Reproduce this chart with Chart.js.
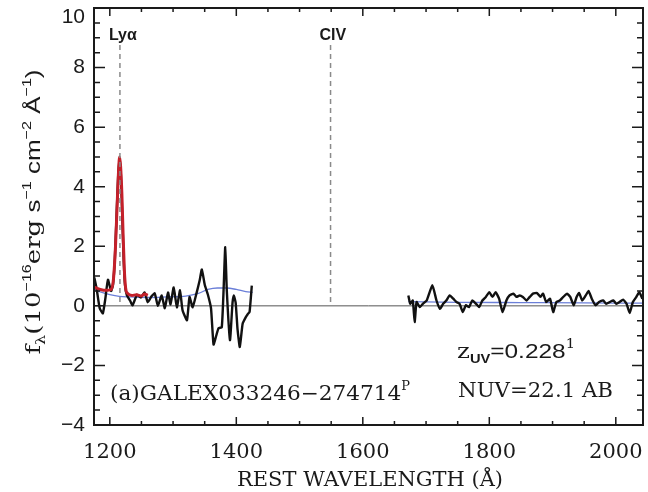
<!DOCTYPE html>
<html>
<head>
<meta charset="utf-8">
<script src="https://cdn.jsdelivr.net/npm/chart.js@4.4.1/dist/chart.umd.min.js"></script>
<style>
  html, body { margin: 0; padding: 0; background: #fff; }
  #spec { display: block; }
</style>
</head>
<body>
<canvas id="spec" width="648" height="492"></canvas>
<script>
// Observed spectrum, blue segment (rest wavelength in A, flux in 1e-16 cgs)
const obsWave1 = [1175.5, 1179, 1184, 1189, 1193, 1197, 1202, 1205, 1208, 1211, 1213.5, 1215.5, 1217.5, 1220, 1222, 1224,
  1227, 1232, 1236, 1243, 1249, 1255, 1260, 1266, 1271, 1276, 1282, 1287, 1292, 1296, 1301, 1306, 1311, 1315, 1322,
  1326, 1331, 1337, 1342, 1345.5, 1350, 1355, 1360, 1364, 1368, 1372, 1377, 1380, 1382.5, 1385, 1390, 1394, 1396,
  1399, 1402, 1405.5, 1410, 1415, 1418, 1421, 1424.5];
const obsFlux1 = [0.95, 0.6, -0.08, -0.25, 0.25, 0.88, 0.5, 0.7, 1.6, 3.2, 4.5, 4.9, 4.4, 2.8, 1.5, 0.7,
  0.35, 0.18, 0.02, 0.38, 0.28, 0.45, 0.12, 0.32, 0.42, 0.0, 0.35, -0.08, 0.45, 0.05, 0.62, -0.05, 0.52, -0.15, -0.48,
  0.3, -0.05, 0.42, 0.85, 1.22, 0.72, 0.38, -0.08, -1.3, -1.02, -0.75, -0.72, 0.6, 1.97, 0.5, -1.15, 0.1, 0.35,
  0.1, -0.8, -1.38, -0.6, -0.38, -0.28, -0.2, 0.68];

// Observed spectrum, red segment
const obsWave2 = [1672, 1675, 1679, 1682, 1685, 1690, 1695, 1701, 1710, 1716.5, 1722, 1727, 1732, 1737.5, 1743, 1748,
  1753, 1758, 1763, 1768, 1773, 1779, 1784, 1789, 1794.5, 1800, 1805, 1810, 1815.5, 1821, 1827, 1832, 1838, 1843,
  1848, 1853, 1859, 1864, 1869, 1875.5, 1881, 1885, 1890, 1896, 1901, 1906, 1911.5, 1917, 1923, 1928, 1933.5, 1938,
  1942, 1947, 1952.5, 1957, 1962, 1968, 1973.5, 1980, 1985, 1990.5, 1996, 2001, 2006, 2011.5, 2017, 2022, 2027,
  2032.5, 2037, 2042];
const obsFlux2 = [0.35, 0.07, 0.18, -0.54, 0.13, -0.04, 0.07, 0.18, 0.69, 0.18, -0.1, 0.07, 0.18, 0.35, 0.24, 0.13,
  0.07, -0.21, 0.02, -0.04, 0.18, 0.07, -0.04, 0.18, 0.3, 0.46, 0.3, 0.46, 0.24, -0.21, 0.18, 0.35, 0.41, 0.3,
  0.35, 0.3, 0.18, 0.3, 0.41, 0.43, 0.3, 0.41, 0.13, 0.24, -0.21, 0.13, 0.18, 0.3, 0.41, 0.3, 0.02, 0.3,
  0.43, 0.18, 0.35, 0.5, 0.24, 0.02, 0.13, 0.18, 0.07, 0.13, 0.18, 0.07, 0.13, 0.21, 0.07, -0.24, 0.13,
  0.3, 0.46, 0.24];

// Continuum model for both segments
const contWave1 = [1175, 1185, 1200, 1215, 1230, 1260, 1290, 1320, 1340, 1355, 1370, 1385, 1400, 1415, 1426];
const contFlux1 = [0.55, 0.47, 0.38, 0.32, 0.3, 0.28, 0.3, 0.33, 0.42, 0.55, 0.6, 0.6, 0.55, 0.48, 0.45];
const contWave2 = [1672, 1750, 1850, 1950, 2043];
const contFlux2 = [0.14, 0.12, 0.11, 0.1, 0.09];

// Line fit around Lyman alpha
const fitWave = [1175, 1185, 1195, 1202, 1206, 1209, 1212, 1214, 1215.5, 1217, 1219, 1221, 1223, 1225, 1228, 1235,
  1242, 1250, 1255, 1260];
const fitFlux = [0.63, 0.55, 0.52, 0.55, 0.95, 2.0, 3.6, 4.6, 5.0, 4.7, 3.8, 2.4, 1.2, 0.6, 0.42, 0.35,
  0.37, 0.33, 0.4, 0.35];

const xTicks = [1200, 1400, 1600, 1800, 2000];
const yTicks = [-4, -2, 0, 2, 4, 6, 8, 10];
const markNames = ['Lyα', 'CIV'];
const markWaves = [1216, 1549];

const SERIF = '"DejaVu Serif", serif';
const SANS = '"Liberation Sans", Arial, sans-serif';
const INK = '#1a1a1a';

const toPoints = (w, f) => w.map((x, i) => ({ x: x, y: f[i] }));
const gap = { x: 1550, y: null };

// draws a row of text runs (sub/superscripts via dy), squeezed or stretched to a given width
function drawRuns(ctx, runs, x, y, align, width) {
  let total = 0;
  runs.forEach(r => { ctx.font = r.f; total += ctx.measureText(r.t).width; });
  const sx = width ? width / total : 1;
  ctx.save();
  ctx.translate(align === 'center' ? x - total * sx / 2 : x, y);
  ctx.scale(sx, 1);
  let cx = 0;
  runs.forEach(r => {
    ctx.font = r.f;
    ctx.fillText(r.t, cx, r.dy || 0);
    cx += ctx.measureText(r.t).width;
  });
  ctx.restore();
}

const idlFrame = {
  id: 'idlFrame',
  beforeDatasetsDraw(chart) {
    const { ctx, chartArea: a, scales: { y } } = chart;
    const y0 = y.getPixelForValue(0);
    ctx.save();
    ctx.strokeStyle = '#555';
    ctx.lineWidth = 1;
    ctx.beginPath();
    ctx.moveTo(a.left, y0);
    ctx.lineTo(a.right, y0);
    ctx.stroke();
    ctx.restore();
  },
  afterDatasetsDraw(chart) {
    const { ctx, chartArea: a, scales: { x, y } } = chart;
    ctx.save();

    // emission line markers
    ctx.strokeStyle = '#8a8a8a';
    ctx.lineWidth = 1.5;
    ctx.setLineDash([5, 4]);
    markWaves.forEach((w, i) => {
      const px = x.getPixelForValue(w);
      ctx.beginPath();
      ctx.moveTo(px, a.top + 37);
      ctx.lineTo(px, y.getPixelForValue(0));
      ctx.stroke();
    });
    ctx.setLineDash([]);
    ctx.fillStyle = INK;
    ctx.font = `bold 16px ${SANS}`;
    ctx.textAlign = 'left';
    ctx.textBaseline = 'alphabetic';
    // label starts a few pixels left of its line
    markWaves.forEach((w, i) => {
      ctx.fillText(markNames[i], x.getPixelForValue(w) - 11, a.top + 32);
    });

    // frame
    ctx.strokeStyle = INK;
    ctx.lineWidth = 2;
    ctx.strokeRect(a.left, a.top, a.right - a.left, a.bottom - a.top);

    // inward ticks on all four sides
    ctx.lineWidth = 1.5;
    ctx.beginPath();
    for (let v = Math.ceil(x.min / 50) * 50; v <= x.max; v += 50) {
      const px = x.getPixelForValue(v);
      const len = v % 200 === 0 ? 8 : 4;
      ctx.moveTo(px, a.bottom); ctx.lineTo(px, a.bottom - len);
      ctx.moveTo(px, a.top); ctx.lineTo(px, a.top + len);
    }
    for (let v = y.min; v <= y.max; v += 0.5) {
      const py = y.getPixelForValue(v);
      const len = v % 2 === 0 ? 11 : 6;
      ctx.moveTo(a.left, py); ctx.lineTo(a.left + len, py);
      ctx.moveTo(a.right, py); ctx.lineTo(a.right - len, py);
    }
    ctx.stroke();

    // tick labels
    ctx.fillStyle = INK;
    ctx.font = `21px ${SERIF}`;
    ctx.textAlign = 'center';
    ctx.textBaseline = 'alphabetic';
    x.ticks.forEach(t => ctx.fillText(String(t.value), x.getPixelForValue(t.value), a.bottom + 33));
    ctx.font = `21px ${SANS}`;
    ctx.textAlign = 'right';
    ctx.textBaseline = 'middle';
    y.ticks.forEach(t => {
      const label = t.value < 0 ? '\u2212' + Math.abs(t.value) : String(t.value);
      ctx.fillText(label, a.left - 9, Math.max(y.getPixelForValue(t.value), a.top + 9));
    });

    // axis titles and annotations
    ctx.textAlign = 'left';
    ctx.textBaseline = 'alphabetic';
    drawRuns(ctx, [{ t: 'REST WAVELENGTH (Å)', f: `21px ${SERIF}` }], 370, a.bottom + 61, 'center', 266);

    ctx.save();
    ctx.translate(40, 212);
    ctx.rotate(-Math.PI / 2);
    drawRuns(ctx, [
      { t: 'f', f: `21px ${SERIF}` },
      { t: 'λ', f: `13px ${SERIF}`, dy: 5 },
      { t: '(10', f: `21px ${SERIF}` },
      { t: '\u221216', f: `13px ${SANS}`, dy: -9 },
      { t: 'erg', f: `21px ${SERIF}` },
      { t: ' s', f: `21px ${SANS}` },
      { t: '\u22121', f: `13px ${SANS}`, dy: -9 },
      { t: ' cm', f: `21px ${SANS}` },
      { t: '\u22122', f: `13px ${SANS}`, dy: -9 },
      { t: ' Å', f: `21px ${SANS}` },
      { t: '\u22121', f: `13px ${SANS}`, dy: -9 },
      { t: ')', f: `21px ${SANS}` }
    ], 0, 0, 'center', 285);
    ctx.restore();

    drawRuns(ctx, [
      { t: '(a)GALEX033246\u2212274714', f: `20px ${SERIF}` },
      { t: 'P', f: `12px ${SERIF}`, dy: -10 }
    ], 110, 400, 'left', 300);
    drawRuns(ctx, [
      { t: 'z', f: `20px ${SERIF}` },
      { t: 'UV', f: `bold 12px ${SANS}`, dy: 5 },
      { t: '=0.228', f: `20px ${SANS}` },
      { t: '1', f: `12px ${SERIF}`, dy: -10 }
    ], 457, 358, 'left', 118);
    drawRuns(ctx, [{ t: 'NUV=22.1 AB', f: `20px ${SERIF}` }], 458, 397, 'left', 155);

    ctx.restore();
  }
};

new Chart(document.getElementById('spec'), {
  type: 'line',
  data: {
    datasets: [
      {
        label: 'Lya fit',
        data: toPoints(fitWave, fitFlux),
        borderColor: '#c4202a',
        borderWidth: 3,
        cubicInterpolationMode: 'monotone',
        order: 0
      },
      {
        label: 'spectrum',
        data: toPoints(obsWave1, obsFlux1).concat([gap], toPoints(obsWave2, obsFlux2)),
        borderColor: '#111',
        borderWidth: 2.4,
        tension: 0.15,
        order: 1
      },
      {
        label: 'continuum',
        data: toPoints(contWave1, contFlux1).concat([gap], toPoints(contWave2, contFlux2)),
        borderColor: '#6b7fd8',
        borderWidth: 1.3,
        cubicInterpolationMode: 'monotone',
        order: 2
      }
    ]
  },
  options: {
    responsive: false,
    animation: false,
    devicePixelRatio: 1,
    spanGaps: false,
    layout: { padding: { left: 94, top: 8, right: 5, bottom: 67 } },
    elements: {
      point: { radius: 0 },
      line: { fill: false, borderJoinStyle: 'round' }
    },
    plugins: { legend: { display: false }, tooltip: { enabled: false } },
    scales: {
      x: {
        type: 'linear', min: 1175, max: 2043,
        grid: { display: false, drawTicks: false }, border: { display: false }, ticks: { display: false },
        afterBuildTicks: s => { s.ticks = xTicks.map(v => ({ value: v })); },
        afterFit: s => { s.height = 0; }
      },
      y: {
        type: 'linear', min: -4, max: 10,
        grid: { display: false, drawTicks: false }, border: { display: false }, ticks: { display: false },
        afterBuildTicks: s => { s.ticks = yTicks.map(v => ({ value: v })); },
        afterFit: s => { s.width = 0; }
      }
    }
  },
  plugins: [idlFrame]
});
</script>
</body>
</html>
